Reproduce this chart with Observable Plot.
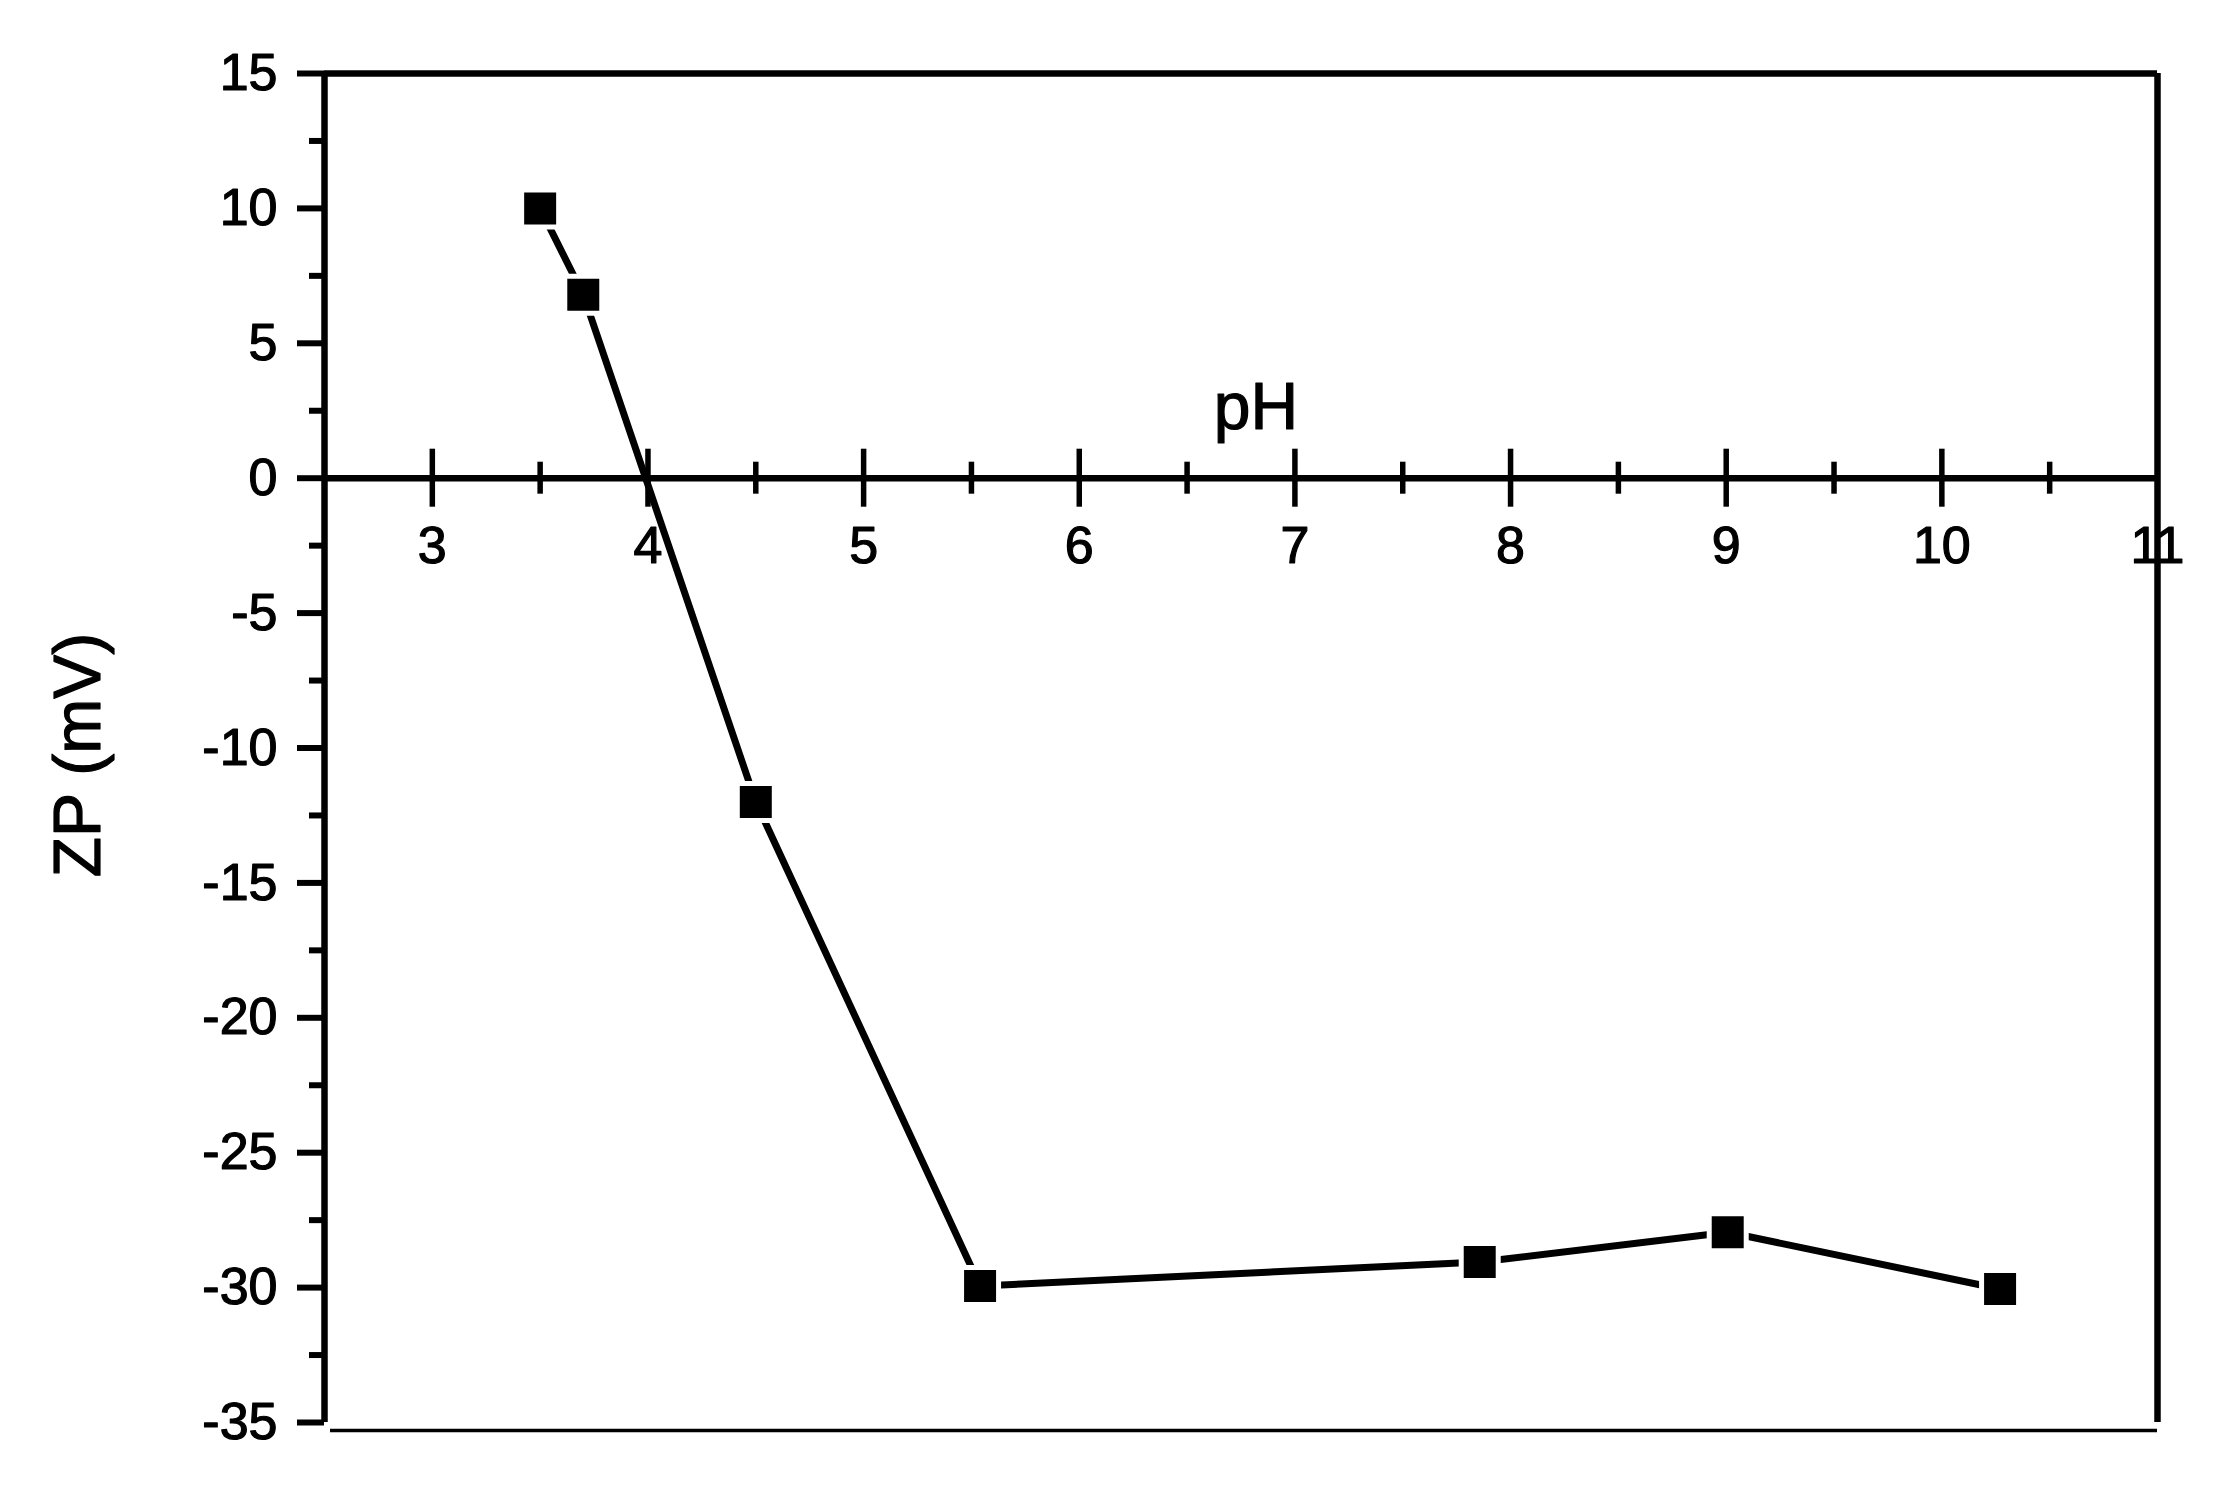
<!DOCTYPE html>
<html><head><meta charset="utf-8">
<script src="https://cdn.jsdelivr.net/npm/d3@7"></script>
<script src="https://cdn.jsdelivr.net/npm/@observablehq/plot@0.6"></script>
<style>body{margin:0;background:#fff} #chart svg{display:block}</style>
</head><body><div id="chart"></div>
<script>
// Data
const pH = [3.5, 3.7, 4.5, 5.54, 7.857, 9.007, 10.27];
const zp = [10.0, 6.8, -12.0, -29.94, -29.05, -27.95, -30.05];

// Axes
const xDomain = [2.5, 11];
const yDomain = [-35, 15];
const xMajorTicks = [3, 4, 5, 6, 7, 8, 9, 10];
const xMinorTicks = [3.5, 4.5, 5.5, 6.5, 7.5, 8.5, 9.5, 10.5];
const xTickLabels = [3, 4, 5, 6, 7, 8, 9, 10, 11];
const yMajorTicks = [-35, -30, -25, -20, -15, -10, -5, 0, 5, 10, 15];
const yMinorTicks = [-32.5, -27.5, -22.5, -17.5, -12.5, -7.5, -2.5, 2.5, 7.5, 12.5];
const xTitle = "pH";
const yTitle = "ZP (mV)";

const data = pH.map((x, i) => ({x, y: zp[i]}));
const font = "'Liberation Sans', Arial, sans-serif";
const xMid = (xDomain[0] + xDomain[1]) / 2;
const yMid = (yDomain[0] + yDomain[1]) / 2;
const textStyle = {fill: "black", stroke: "black", strokeWidth: 1.2};

const chart = Plot.plot({
  width: 2222, height: 1504,
  marginLeft: 324, marginRight: 65, marginTop: 73, marginBottom: 82,
  x: {domain: xDomain, axis: null},
  y: {domain: yDomain, axis: null},
  style: {fontFamily: font, background: "white", color: "black"},
  marks: [
    // frame lines
    Plot.ruleX([xDomain[0]], {y1: yDomain[0], y2: yDomain[1], stroke: "black", strokeWidth: 6.5}),
    Plot.ruleX([xDomain[1]], {y1: yDomain[0], y2: yDomain[1], stroke: "black", strokeWidth: 6.5}),
    Plot.ruleY([yDomain[1]], {x1: xDomain[0], x2: xDomain[1], stroke: "black", strokeWidth: 6.5}),
    Plot.ruleY([yDomain[0]], {x1: xDomain[0], x2: xDomain[1], stroke: "black", strokeWidth: 3.5, dy: 8, insetLeft: 6}),
    // y ticks and labels
    Plot.ruleY(yMajorTicks, {y: d => d, x1: xDomain[0], x2: xDomain[0], insetLeft: -27, stroke: "black", strokeWidth: 6}),
    Plot.ruleY(yMinorTicks, {y: d => d, x1: xDomain[0], x2: xDomain[0], insetLeft: -15, stroke: "black", strokeWidth: 6}),
    Plot.text(yMajorTicks, {x: xDomain[0], y: d => d, text: d => String(d), textAnchor: "end", dx: -47, fontSize: 52, ...textStyle}),
    // x axis at zero
    Plot.ruleY([0], {x1: xDomain[0], x2: xDomain[1], stroke: "black", strokeWidth: 6.5}),
    Plot.ruleX(xMajorTicks, {x: d => d, y1: 0, y2: 0, insetTop: -29, insetBottom: -29, stroke: "black", strokeWidth: 5.5}),
    Plot.ruleX(xMinorTicks, {x: d => d, y1: 0, y2: 0, insetTop: -16, insetBottom: -16, stroke: "black", strokeWidth: 5.5}),
    Plot.text(xTickLabels, {x: d => d, y: 0, text: d => String(d), dy: 68, fontSize: 52, ...textStyle}),
    // titles
    Plot.text([xTitle], {x: xMid, y: 0, text: d => d, dx: 15, dy: -70, fontSize: 66, ...textStyle}),
    Plot.text([yTitle], {x: xDomain[0], y: yMid, text: d => d, rotate: -90, dx: -246, dy: 7, fontSize: 66, ...textStyle}),
    // data
    Plot.line(data, {x: "x", y: "y", stroke: "black", strokeWidth: 7, strokeLinecap: "round"}),
    Plot.dot(data, {x: "x", y: "y", symbol: "square", r: 23.7, fill: "white", stroke: "none"}),
    Plot.dot(data, {x: "x", y: "y", symbol: "square", r: 18.05, fill: "black", stroke: "none"})
  ]
});
document.getElementById("chart").appendChild(chart);
</script>
</body></html>
